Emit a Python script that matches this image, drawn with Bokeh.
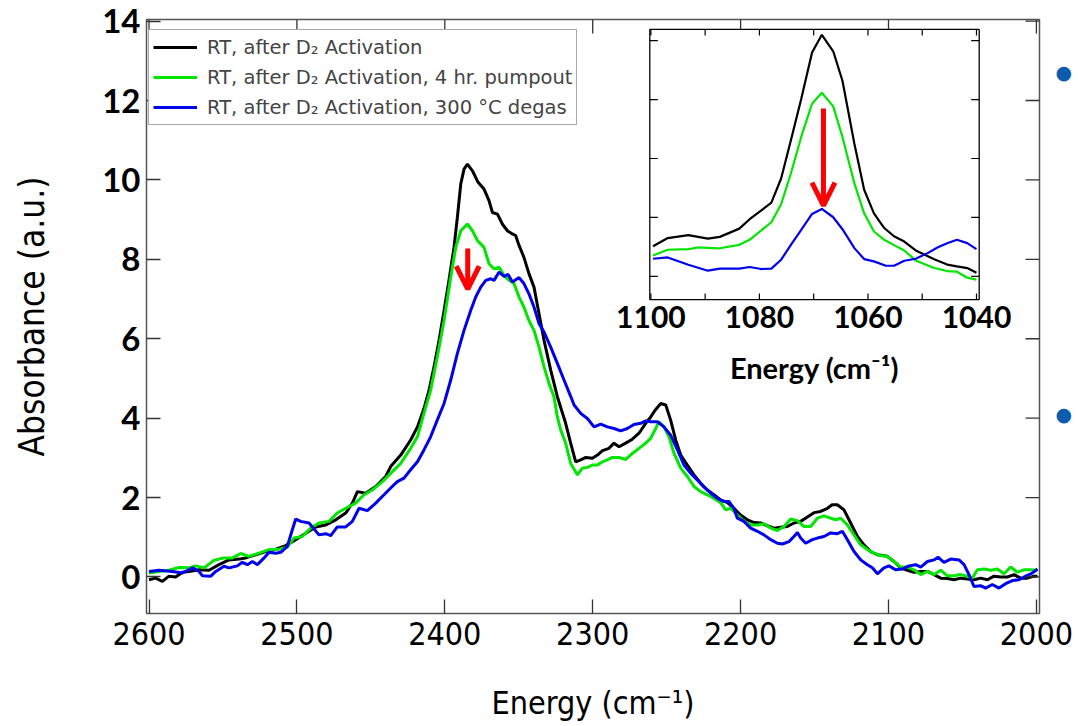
from bokeh.plotting import figure
from bokeh.models import (Range1d, LinearAxis, FixedTicker, Arrow, OpenHead,
                          Legend, LegendItem, CustomJSTickFormatter)
from bokeh.embed import file_html
from bokeh.resources import INLINE
from bokeh.core.properties import value

# ---------------- main spectrum data (energy in cm^-1, absorbance a.u.) -------------
e_black = [2600, 2595.5, 2591, 2586.5, 2582, 2577.4, 2573, 2566.2, 2559.4, 2552.7, 2545.9, 2539.1,
           2534.6, 2527.9, 2521.1, 2514.3, 2507.6, 2500.8, 2494, 2487.3, 2480.5, 2473.7, 2467,
           2462.5, 2459.1, 2453.5, 2446.7, 2440, 2436.6, 2429.8, 2423.1, 2418.5, 2414.1, 2410.7,
           2407.3, 2403.9, 2400.5, 2397.2, 2393.8, 2391.5, 2389.2, 2387, 2384.7, 2381.3, 2377.5,
           2373.5, 2370.1, 2367.8, 2364.4, 2361.1, 2357.7, 2354.3, 2352.1, 2349.8, 2346.5, 2343.1,
           2339.7, 2336.3, 2332.9, 2328.4, 2323.9, 2318.3, 2314.9, 2311.5, 2308.1, 2304.7, 2300.2,
           2296.8, 2293.4, 2289, 2285.6, 2282.2, 2277.7, 2273.2, 2268.7, 2264.2, 2260.8, 2257.4,
           2254, 2250.6, 2247.3, 2243.9, 2240.5, 2236, 2231.5, 2227, 2222.5, 2218, 2213.5, 2208.9,
           2204.5, 2200, 2195.4, 2190.9, 2186.4, 2181.9, 2177.4, 2172.9, 2168.4, 2163.9, 2159.4,
           2154.8, 2150.4, 2145.9, 2141.3, 2138.1, 2134.6, 2130.1, 2125.6, 2121, 2116.6, 2112.1,
           2107.5, 2100.8, 2096.3, 2091.8, 2087.2, 2082.8, 2078.2, 2073.7, 2069.2, 2064.7, 2060.2,
           2055.7, 2051.2, 2046.7, 2042.2, 2037.7, 2033.1, 2028.7, 2024.1, 2019.6, 2015.1, 2010.6,
           2006.1, 2001.6, 1999.3]
a_black = [-0.07, -0.03, -0.11, 0.02, 0.0, 0.12, 0.14, 0.18, 0.17, 0.31, 0.43, 0.45, 0.48, 0.56,
           0.64, 0.70, 0.79, 0.94, 1.10, 1.26, 1.31, 1.44, 1.61, 1.86, 2.15, 2.11, 2.28, 2.53, 2.78,
           3.07, 3.45, 3.78, 4.24, 4.70, 5.29, 5.96, 6.71, 7.47, 8.30, 9.06, 9.90, 10.27, 10.40,
           10.23, 9.94, 9.77, 9.48, 9.18, 9.14, 8.89, 8.72, 8.64, 8.60, 8.35, 8.05, 7.64, 7.30, 6.63,
           5.96, 5.21, 4.54, 3.87, 3.37, 2.90, 2.95, 3.01, 2.99, 3.07, 3.18, 3.24, 3.37, 3.28, 3.37,
           3.47, 3.62, 3.87, 4.03, 4.22, 4.37, 4.33, 3.95, 3.45, 3.07, 2.82, 2.57, 2.36, 2.19, 2.07,
           1.94, 1.87, 1.73, 1.56, 1.44, 1.37, 1.36, 1.29, 1.23, 1.25, 1.27, 1.36, 1.40, 1.51, 1.62,
           1.65, 1.73, 1.82, 1.82, 1.69, 1.36, 1.02, 0.81, 0.64, 0.56, 0.52, 0.39, 0.23, 0.17, 0.12,
           0.14, 0.14, 0.06, -0.03, -0.04, -0.07, -0.03, -0.05, -0.07, -0.03, -0.07, 0.02, 0.0, 0.0,
           0.06, -0.03, -0.03, 0.02, 0.02]

e_green = [2600, 2593.2, 2586.5, 2579.7, 2573, 2568.4, 2562.8, 2556, 2549.3, 2543.6, 2538, 2532.4,
           2525.6, 2518.8, 2512.1, 2506.5, 2502, 2496.3, 2490.7, 2485.1, 2478.3, 2472.7, 2467,
           2460.3, 2454.6, 2449, 2442.2, 2436.6, 2429.8, 2423.1, 2418.5, 2414.1, 2409.6, 2405.1,
           2400.5, 2396, 2392.6, 2389.2, 2384.7, 2381.3, 2377.9, 2373.5, 2370.1, 2366.7, 2363.3,
           2359.9, 2356.5, 2353.2, 2349.8, 2346.5, 2343.1, 2339.7, 2336.3, 2332.9, 2329.5, 2326.2,
           2323.9, 2321.6, 2318.3, 2314.9, 2310.3, 2307, 2303.6, 2300.2, 2296.8, 2293.4, 2290.1,
           2286.7, 2282.2, 2277.7, 2273.2, 2268.7, 2264.2, 2260.8, 2257.4, 2255.2, 2251.8, 2248.4,
           2245, 2240.5, 2236, 2231.5, 2227, 2222.5, 2218, 2213.5, 2210.1, 2206.7, 2202.2, 2197.7,
           2193.2, 2188.6, 2184.2, 2179.6, 2175.1, 2170.6, 2166.1, 2161.6, 2157.1, 2152.6, 2148.1,
           2143.6, 2139.1, 2135.7, 2132.3, 2127.8, 2123.3, 2118.8, 2114.3, 2109.8, 2105.3, 2100.8,
           2096.3, 2091.8, 2087.2, 2082.8, 2078.2, 2073.7, 2069.2, 2064.7, 2060.2, 2055.7, 2051.2,
           2046.7, 2043.3, 2039.9, 2035.4, 2030.9, 2026.4, 2021.9, 2017.4, 2012.9, 2008.3, 2003.8,
           1999.3]
a_green = [0.10, 0.14, 0.17, 0.24, 0.23, 0.28, 0.23, 0.42, 0.48, 0.48, 0.59, 0.52, 0.60, 0.69, 0.70,
           0.75, 0.98, 1.02, 1.23, 1.36, 1.40, 1.61, 1.73, 1.86, 2.07, 2.19, 2.40, 2.61, 2.86, 3.24,
           3.53, 4.12, 4.70, 5.54, 6.46, 7.55, 8.30, 8.72, 8.89, 8.72, 8.47, 8.30, 7.89, 7.76, 7.80,
           7.59, 7.47, 7.39, 7.05, 6.80, 6.46, 6.21, 5.79, 5.29, 4.87, 4.54, 4.03, 3.70, 3.37, 2.86,
           2.57, 2.74, 2.76, 2.82, 2.82, 2.90, 2.95, 3.01, 3.01, 2.96, 3.11, 3.24, 3.37, 3.49, 3.74,
           3.91, 3.78, 3.53, 3.11, 2.74, 2.53, 2.28, 2.15, 2.07, 1.98, 1.87, 1.69, 1.73, 1.56, 1.40,
           1.31, 1.31, 1.34, 1.23, 1.17, 1.27, 1.46, 1.42, 1.27, 1.27, 1.48, 1.54, 1.48, 1.44, 1.48,
           1.31, 1.06, 0.81, 0.69, 0.60, 0.54, 0.52, 0.39, 0.25, 0.25, 0.18, 0.06, 0.14, 0.06, 0.17,
           0.03, 0.03, 0.06, 0.02, -0.03, 0.18, 0.20, 0.17, 0.20, 0.08, 0.25, 0.12, 0.18, 0.18, 0.17]

e_blue = [2600, 2593.2, 2584.2, 2577.4, 2570.6, 2566.2, 2563.9, 2558.2, 2554.9, 2549.3, 2545.9,
          2540.3, 2536.9, 2533.5, 2530.1, 2526.7, 2522.2, 2518.8, 2514.3, 2510.9, 2506.5, 2503.1,
          2500.8, 2497.5, 2491.8, 2485.1, 2480.5, 2477.1, 2472.7, 2467, 2462.5, 2458, 2452.4,
          2446.7, 2441.1, 2436.6, 2432.1, 2427.6, 2423.1, 2418.5, 2414.1, 2409.6, 2405.1, 2400.5,
          2396, 2391.5, 2387, 2382.5, 2379.1, 2375.7, 2372.3, 2369, 2366.7, 2363.3, 2359.9, 2357.2,
          2354.3, 2349.8, 2346.5, 2343.1, 2339.7, 2336.3, 2332.9, 2328.4, 2323.9, 2319.4, 2314.9,
          2312.6, 2308.1, 2303.6, 2299.1, 2294.6, 2290.1, 2285.6, 2281.1, 2276.6, 2272.1, 2267.5,
          2264.2, 2260.8, 2256.3, 2251.8, 2247.3, 2242.7, 2238.3, 2233.7, 2229.2, 2224.7, 2220.2,
          2215.7, 2211.2, 2207.8, 2204.5, 2202.2, 2197.7, 2193.2, 2188.6, 2184.2, 2179.6, 2175.1,
          2171.7, 2167.3, 2163.9, 2161.6, 2159.4, 2156, 2151.5, 2148.1, 2143.6, 2139.1, 2134.6,
          2131.2, 2127.8, 2123.3, 2118.8, 2114.3, 2110.9, 2107.5, 2103.1, 2099.7, 2095.2, 2090.6,
          2086.1, 2081.6, 2078.2, 2073.7, 2069.2, 2066.5, 2062.5, 2058, 2052.3, 2048.9, 2045.6,
          2042.2, 2037.7, 2034.3, 2029.8, 2025.3, 2020.8, 2016.2, 2011.8, 2007.2, 2002.7, 1999.3]
a_blue = [0.14, 0.17, 0.14, 0.10, 0.23, 0.14, 0.03, 0.02, 0.14, 0.27, 0.23, 0.28, 0.37, 0.31, 0.39,
          0.31, 0.48, 0.62, 0.60, 0.62, 0.77, 1.19, 1.46, 1.40, 1.36, 1.06, 1.09, 1.04, 1.26, 1.26,
          1.40, 1.73, 1.67, 1.86, 2.07, 2.24, 2.40, 2.49, 2.70, 2.90, 3.20, 3.53, 3.95, 4.37, 4.96,
          5.63, 6.21, 6.71, 7.05, 7.30, 7.47, 7.51, 7.47, 7.68, 7.57, 7.62, 7.43, 7.54, 7.39, 7.13,
          6.80, 6.38, 6.17, 5.79, 5.38, 4.96, 4.55, 4.33, 4.12, 3.99, 3.78, 3.85, 3.78, 3.74, 3.68,
          3.74, 3.84, 3.87, 3.93, 3.91, 3.91, 3.78, 3.57, 3.20, 2.82, 2.61, 2.44, 2.26, 2.11, 1.98,
          1.90, 1.90, 1.73, 1.48, 1.40, 1.23, 1.15, 1.06, 0.94, 0.85, 0.83, 0.89, 1.02, 1.12, 0.98,
          0.85, 0.94, 0.98, 1.02, 1.11, 1.09, 1.15, 0.94, 0.64, 0.43, 0.31, 0.23, 0.08, 0.23, 0.28,
          0.18, 0.20, 0.28, 0.31, 0.25, 0.39, 0.43, 0.50, 0.37, 0.45, 0.43, 0.31, 0.06, -0.24,
          -0.22, -0.28, -0.19, -0.28, -0.17, -0.09, -0.07, 0.02, 0.10, 0.20]

# ---------------- inset data (1100-1040 cm^-1, arbitrary absorbance units) ----------
ie_black = [1099.6, 1096.9, 1093.1, 1089.5, 1087.3, 1083.7, 1081.8, 1077.8, 1076.0, 1074.2, 1072.3,
            1070.3, 1068.5, 1066.4, 1064.7, 1062.5, 1060.7, 1058.9, 1057.0, 1055.2, 1053.3, 1051.2,
            1047.8, 1045.4, 1043.6, 1041.7, 1040.0]
ia_black = [1.51, 1.65, 1.70, 1.64, 1.67, 1.81, 1.97, 2.25, 2.66, 3.31, 4.01, 4.80, 5.10, 4.82, 4.32,
            3.25, 2.47, 2.07, 1.82, 1.68, 1.59, 1.44, 1.29, 1.20, 1.17, 1.14, 1.06]
ie_green = [1099.6, 1096.9, 1093.1, 1091.3, 1087.6, 1083.7, 1081.8, 1077.8, 1076.0, 1074.2, 1072.3,
            1070.3, 1068.5, 1066.4, 1064.7, 1062.5, 1060.7, 1058.9, 1057.0, 1055.2, 1053.3, 1051.2,
            1047.8, 1045.4, 1043.6, 1041.7, 1040.0]
ia_green = [1.355, 1.451, 1.462, 1.490, 1.473, 1.535, 1.620, 1.918, 2.223, 2.746, 3.366, 3.930, 4.115,
            3.885, 3.366, 2.577, 2.070, 1.761, 1.620, 1.530, 1.439, 1.270, 1.141, 1.090, 1.079,
            0.977, 0.944]
ie_blue = [1099.6, 1096.9, 1093.1, 1089.5, 1087.3, 1083.7, 1081.8, 1079.7, 1077.8, 1076.0, 1074.2,
           1072.3, 1070.3, 1068.5, 1066.4, 1064.7, 1062.5, 1060.7, 1058.9, 1056.7, 1055.2, 1053.3,
           1051.2, 1049.0, 1047.2, 1045.4, 1043.6, 1041.7, 1040.0]
ia_blue = [1.299, 1.321, 1.197, 1.096, 1.130, 1.130, 1.158, 1.124, 1.130, 1.282, 1.535, 1.789, 2.059,
           2.144, 2.003, 1.800, 1.479, 1.293, 1.254, 1.180, 1.180, 1.265, 1.299, 1.394, 1.490,
           1.563, 1.620, 1.563, 1.462]

labels = ["RT, after D\u2082 Activation",
          "RT, after D\u2082 Activation, 4 hr. pumpout",
          "RT, after D\u2082 Activation, 300 \u00b0C degas"]
colors = ["#000000", "#00e600", "#0000ee"]

x_ticks = [2600, 2500, 2400, 2300, 2200, 2100, 2000]
y_ticks = [0, 2, 4, 6, 8, 10, 12, 14]
inset_x_labels = [1100, 1080, 1060, 1040]
inset_x_ticks = [1100, 1090, 1080, 1070, 1060, 1050, 1040]
inset_y_ticks = [1, 2, 3, 4, 5]
axis_title = "Energy (cm\u207b\u00b9)"

# arrow annotations (data coordinates) and slide bullets (y positions)
main_arrow = dict(x=2384.5, y0=8.27, y1=7.25)
inset_arrow = dict(x=1068.2, y0=3.85, y1=2.20)
bullet_y = [12.72, 4.1]

# ---------------- layout constants (pixels) ----------------
W, H = 1076, 724
BL, BR, BT, BB = 146, 37, 19, 109          # borders around the main frame
FW, FH = W - BL - BR, H - BT - BB          # main frame size
X0, X1 = 2601.7, 1997.9                    # main x range (reversed)
Y0, Y1 = -0.92, 14.04
# inset box relative to the main frame (px from frame left / top)
IL, IR, IT, IB = 503.3, 832.7, 10.0, 281.0
IX0, IX1 = 1100.2, 1039.5                  # inset x range (reversed)
IY0, IY1 = 0.606, 5.19

NARROW = "DejaVu Sans Condensed, Roboto"
GEO = "Lato"
FRAME = "#555555"
TICK = "#333333"

# ============================ main figure ============================
p = figure(width=W, height=H, min_border_left=BL, min_border_right=BR,
           min_border_top=BT, min_border_bottom=BB,
           x_range=Range1d(X0, X1), y_range=Range1d(Y0, Y1),
           output_backend="svg", toolbar_location=None)
p.xgrid.visible = False
p.ygrid.visible = False
p.outline_line_color = FRAME
p.outline_line_width = 1.5
p.background_fill_color = "white"
p.border_fill_color = "white"

renderers = []
for e, a, c in [(e_black, a_black, colors[0]), (e_green, a_green, colors[1]), (e_blue, a_blue, colors[2])]:
    renderers.append(p.line(e, a, line_color=c, line_width=3))

xa = p.xaxis[0]
xa.ticker = FixedTicker(ticks=x_ticks)
ya = p.yaxis[0]
ya.ticker = FixedTicker(ticks=y_ticks)
for ax in (xa, ya):
    ax.major_tick_in = 14
    ax.major_tick_out = 0
    ax.minor_tick_in = 0
    ax.minor_tick_out = 0
    ax.major_tick_line_color = TICK
    ax.major_tick_line_width = 1.3
    ax.axis_line_color = None
    ax.major_label_text_color = "black"
    ax.axis_label_text_color = "black"
    ax.axis_label_text_font_style = "normal"

xa.major_label_text_font = NARROW
xa.major_label_text_font_size = "32px"
xa.major_label_standoff = 8
xa.axis_label = axis_title
xa.axis_label_text_font = NARROW
xa.axis_label_text_font_size = "32px"
xa.axis_label_standoff = 36

ya.major_label_text_font = GEO
ya.major_label_text_font_style = "bold"
ya.major_label_text_font_size = "33px"
ya.major_label_text_line_height = 1.0
ya.major_label_standoff = 6
ya.axis_label = "Absorbance (a.u.)"
ya.axis_label_text_font = NARROW
ya.axis_label_text_font_size = "35px"
ya.axis_label_standoff = 47

# mirrored ticks on top and right edges of the frame
ppx = (X0 - X1) / FW          # data units per pixel (x)
ppy = (Y1 - Y0) / FH          # data units per pixel (y)
p.segment(x0=x_ticks, y0=[Y1] * len(x_ticks), x1=x_ticks, y1=[Y1 - 14 * ppy] * len(x_ticks),
          line_color=TICK, line_width=1.3)
p.segment(x0=[X1] * len(y_ticks), y0=y_ticks, x1=[X1 + 14 * ppx] * len(y_ticks), y1=y_ticks,
          line_color=TICK, line_width=1.3)

# slide bullets to the right of the chart (labels of a tick-less right axis)
bul = LinearAxis(ticker=FixedTicker(ticks=bullet_y), major_tick_in=0, major_tick_out=0,
                 minor_tick_in=0, minor_tick_out=0, axis_line_color=None,
                 formatter=CustomJSTickFormatter(code="return '\u25cf'"),
                 major_label_text_color="#0b5cad", major_label_text_font="DejaVu Sans",
                 major_label_text_font_size="19px", major_label_standoff=16)
p.add_layout(bul, "right")

legend = Legend(items=[LegendItem(label=l, renderers=[r]) for l, r in zip(labels, renderers)],
                location=(2, 488), orientation="vertical",
                label_text_font="DejaVu Sans", label_text_font_size="19.5px",
                glyph_width=44, glyph_height=26, label_height=26, spacing=4, padding=4,
                label_standoff=10, margin=0,
                border_line_color=FRAME, border_line_width=1.2,
                background_fill_color="white", background_fill_alpha=1.0)
p.add_layout(legend)

p.add_layout(Arrow(end=OpenHead(size=23, line_color="#ff0000", line_width=5),
                   x_start=main_arrow["x"], y_start=main_arrow["y0"],
                   x_end=main_arrow["x"], y_end=main_arrow["y1"],
                   line_color="#ff0000", line_width=5))

# ============================ inset (own scales) ============================
ux = (IX1 - IX0) / (IR - IL)          # inset x units per pixel (negative: reversed axis)
uy = (IY1 - IY0) / (IB - IT)          # inset y units per pixel
p.extra_x_ranges = {"ix": Range1d(IX0 - IL * ux, IX0 + (FW - IL) * ux)}
p.extra_y_ranges = {"iy": Range1d(IY0 - (FH - IB) * uy, IY1 + IT * uy)}
R = dict(x_range_name="ix", y_range_name="iy")

p.quad(left=[IX0], right=[IX1], bottom=[IY0], top=[IY1], fill_color="white",
       line_color="black", line_width=1.3, **R)
for e, a, c in [(ie_black, ia_black, colors[0]), (ie_green, ia_green, colors[1]), (ie_blue, ia_blue, colors[2])]:
    p.line(e, a, line_color=c, line_width=2.2, **R)

n = len(inset_x_ticks)
p.segment(x0=inset_x_ticks, y0=[IY0] * n, x1=inset_x_ticks, y1=[IY0 + 6 * uy] * n,
          line_color="black", line_width=1.2, **R)
p.segment(x0=inset_x_ticks, y0=[IY1] * n, x1=inset_x_ticks, y1=[IY1 - 6 * uy] * n,
          line_color="black", line_width=1.2, **R)
m = len(inset_y_ticks)
p.segment(x0=[IX0] * m, y0=inset_y_ticks, x1=[IX0 + 8 * ux] * m, y1=inset_y_ticks,
          line_color="black", line_width=1.2, **R)
p.segment(x0=[IX1] * m, y0=inset_y_ticks, x1=[IX1 - 8 * ux] * m, y1=inset_y_ticks,
          line_color="black", line_width=1.2, **R)

p.text(x=inset_x_labels, y=[IY0] * len(inset_x_labels), text=[str(v) for v in inset_x_labels],
       text_font=value(GEO), text_font_style="bold", text_font_size="30px", text_color="black",
       text_align="center", text_baseline="top", y_offset=6, **R)
p.text(x=[(IX0 + IX1) / 2], y=[IY0], text=[axis_title],
       text_font=value(GEO), text_font_style="bold", text_font_size="29px", text_color="black",
       text_align="center", text_baseline="alphabetic", y_offset=68, **R)

p.add_layout(Arrow(end=OpenHead(size=23, line_color="#ff0000", line_width=5),
                   x_start=inset_arrow["x"], y_start=inset_arrow["y0"],
                   x_end=inset_arrow["x"], y_end=inset_arrow["y1"],
                   line_color="#ff0000", line_width=5, **R))

open("out.html", "w").write(file_html(p, INLINE))
